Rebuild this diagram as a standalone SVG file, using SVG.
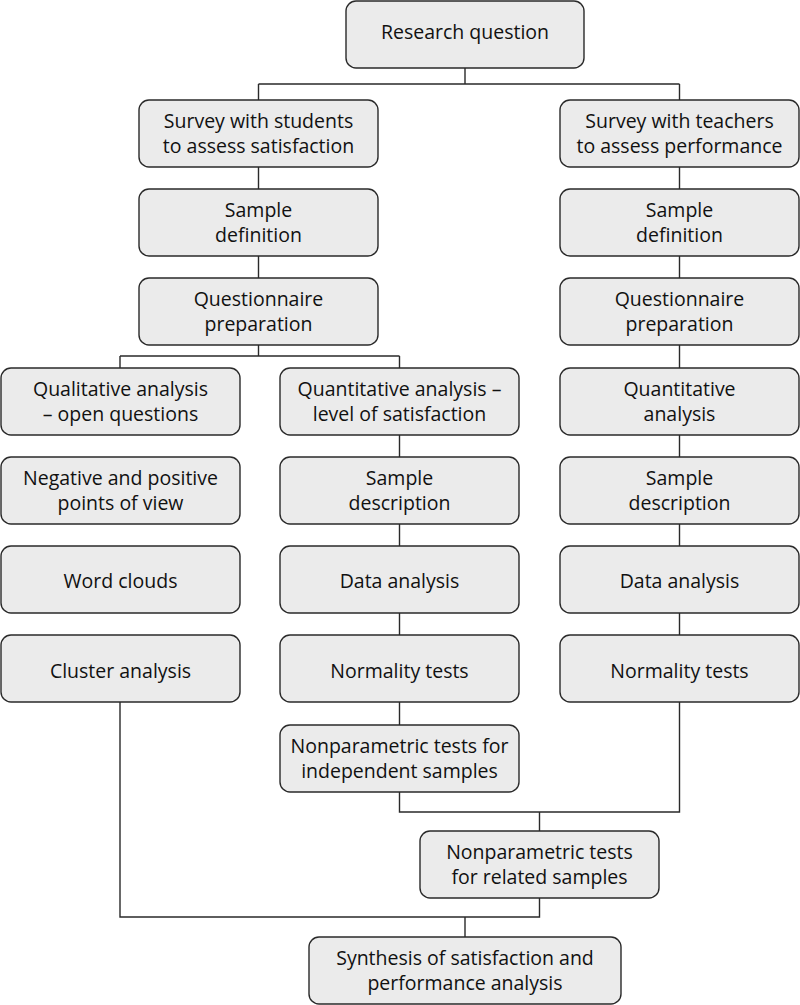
<svg xmlns="http://www.w3.org/2000/svg" width="800" height="1005" viewBox="0 0 800 1005">
<style>
.b{fill:#ebebeb;stroke:#2a2a2a;stroke-width:1.4}
.t{font-family:"Open Sans","Noto Sans","Liberation Sans",sans-serif;font-size:19.5px;fill:#111;text-anchor:middle}
.c{fill:none;stroke:#2a2a2a;stroke-width:1.4}
</style>
<rect width="800" height="1005" fill="#fff"/>
<g id="connectors">
<path class="c" d="M465,68V84M258.5,84H679.5M258.5,84V100M679.5,84V100"/>
<path class="c" d="M258.5,167V189M258.5,256V278M258.5,345V356M120,356H399.5M120,356V368M399.5,356V368"/>
<path class="c" d="M679.5,167V189M679.5,256V278M679.5,345V368M679.5,435V457M679.5,524V546M679.5,613V635"/>
<path class="c" d="M399.5,435V457M399.5,524V546M399.5,613V635M399.5,702V725"/>
<path class="c" d="M399.5,792V812H679.5V702M539.5,812V831"/>
<path class="c" d="M120,702V917H539.5V898M465,917V937"/>
</g>
<g id="research"><rect class="b" x="346" y="1" width="238" height="67" rx="10"/><text class="t" x="465" y="39">Research question</text></g>
<g id="survey-students"><rect class="b" x="139" y="100" width="239" height="67" rx="10"/><text class="t" x="258.5" y="128">Survey with students</text><text class="t" x="258.5" y="153">to assess satisfaction</text></g>
<g id="survey-teachers"><rect class="b" x="560" y="100" width="239" height="67" rx="10"/><text class="t" x="679.5" y="128">Survey with teachers</text><text class="t" x="679.5" y="153">to assess performance</text></g>
<g id="sample-def-l"><rect class="b" x="139" y="189" width="239" height="67" rx="10"/><text class="t" x="258.5" y="217">Sample</text><text class="t" x="258.5" y="242">definition</text></g>
<g id="sample-def-r"><rect class="b" x="560" y="189" width="239" height="67" rx="10"/><text class="t" x="679.5" y="217">Sample</text><text class="t" x="679.5" y="242">definition</text></g>
<g id="quest-l"><rect class="b" x="139" y="278" width="239" height="67" rx="10"/><text class="t" x="258.5" y="306">Questionnaire</text><text class="t" x="258.5" y="331">preparation</text></g>
<g id="quest-r"><rect class="b" x="560" y="278" width="239" height="67" rx="10"/><text class="t" x="679.5" y="306">Questionnaire</text><text class="t" x="679.5" y="331">preparation</text></g>
<g id="qual"><rect class="b" x="1" y="368" width="239" height="67" rx="10"/><text class="t" x="120.5" y="396">Qualitative analysis</text><text class="t" x="120.5" y="421">– open questions</text></g>
<g id="quant-l"><rect class="b" x="280" y="368" width="239" height="67" rx="10"/><text class="t" x="399.5" y="396">Quantitative analysis –</text><text class="t" x="399.5" y="421">level of satisfaction</text></g>
<g id="quant-r"><rect class="b" x="560" y="368" width="239" height="67" rx="10"/><text class="t" x="679.5" y="396">Quantitative</text><text class="t" x="679.5" y="421">analysis</text></g>
<g id="negpos"><rect class="b" x="1" y="457" width="239" height="67" rx="10"/><text class="t" x="120.5" y="485">Negative and positive</text><text class="t" x="120.5" y="510">points of view</text></g>
<g id="sdesc-l"><rect class="b" x="280" y="457" width="239" height="67" rx="10"/><text class="t" x="399.5" y="485">Sample</text><text class="t" x="399.5" y="510">description</text></g>
<g id="sdesc-r"><rect class="b" x="560" y="457" width="239" height="67" rx="10"/><text class="t" x="679.5" y="485">Sample</text><text class="t" x="679.5" y="510">description</text></g>
<g id="wordclouds"><rect class="b" x="1" y="546" width="239" height="67" rx="10"/><text class="t" x="120.5" y="588">Word clouds</text></g>
<g id="data-l"><rect class="b" x="280" y="546" width="239" height="67" rx="10"/><text class="t" x="399.5" y="588">Data analysis</text></g>
<g id="data-r"><rect class="b" x="560" y="546" width="239" height="67" rx="10"/><text class="t" x="679.5" y="588">Data analysis</text></g>
<g id="cluster"><rect class="b" x="1" y="635" width="239" height="67" rx="10"/><text class="t" x="120.5" y="678">Cluster analysis</text></g>
<g id="norm-l"><rect class="b" x="280" y="635" width="239" height="67" rx="10"/><text class="t" x="399.5" y="678">Normality tests</text></g>
<g id="norm-r"><rect class="b" x="560" y="635" width="239" height="67" rx="10"/><text class="t" x="679.5" y="678">Normality tests</text></g>
<g id="indep"><rect class="b" x="280" y="725" width="239" height="67" rx="10"/><text class="t" x="399.5" y="753">Nonparametric tests for</text><text class="t" x="399.5" y="778">independent samples</text></g>
<g id="related"><rect class="b" x="420" y="831" width="239" height="67" rx="10"/><text class="t" x="539.5" y="859">Nonparametric tests</text><text class="t" x="539.5" y="884">for related samples</text></g>
<g id="synthesis"><rect class="b" x="309" y="937" width="312" height="67" rx="10"/><text class="t" x="465" y="965">Synthesis of satisfaction and</text><text class="t" x="465" y="990">performance analysis</text></g>
</svg>
